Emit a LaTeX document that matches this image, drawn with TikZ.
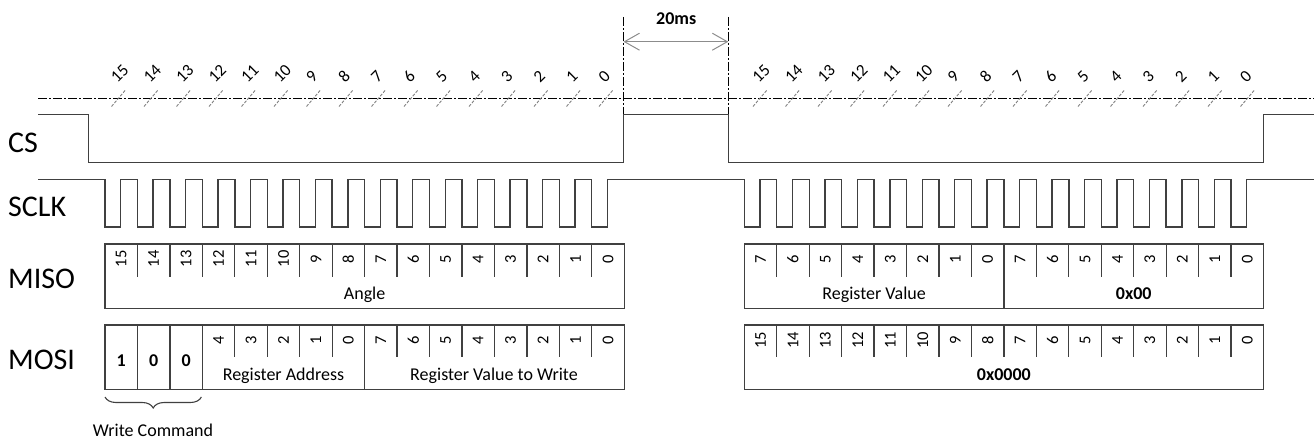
\documentclass[tikz,border=0pt]{standalone}
\usepackage{fontspec}
\setmainfont{Carlito}
\usetikzlibrary{arrows.meta,decorations.pathreplacing}
\begin{document}
\begin{tikzpicture}[x=1pt,y=-1pt]
\tikzset{
  sig/.style={draw=black!75, line width=1.4pt},
  boxline/.style={draw=black!75, line width=1.3pt},
  axisline/.style={black, line width=0.8pt, dash pattern=on 9pt off 2pt on 2pt off 2pt},
  tickline/.style={black!50, line width=0.9pt, dash pattern=on 3pt off 1.5pt},
  siglabel/.style={anchor=west, inner sep=0, font=\fontsize{30}{36}\selectfont},
  bitlbl/.style={rotate=90, anchor=center, inner sep=0, font=\fontsize{16.5}{18}\selectfont},
  toplbl/.style={rotate=45, anchor=west, inner sep=0, font=\fontsize{17}{18}\selectfont},
  fieldlbl/.style={anchor=base, inner sep=0, font=\fontsize{18}{20}\selectfont},
  boldlbl/.style={anchor=base, inner sep=0, font=\fontsize{18}{20}\selectfont\bfseries},
}
\useasboundingbox (0,0) rectangle (1314,441);

% signal names
\node[siglabel] (lcs)   at (8,143.3) {CS};
\node[siglabel] (lsclk) at (8,207)   {SCLK};
\node[siglabel] (lmiso) at (8,278.5) {MISO};
\node[siglabel] (lmosi) at (8,359.5) {MOSI};

% bit axis
\coordinate (axL) at (38,98);
\coordinate (axR) at (1314,98);
\draw[axisline] (axL) -- (axR);
\foreach \i [evaluate=\i as \x using 118.5+32.5*\i, evaluate=\i as \n using int(15-\i)] in {0,...,15} {
  \draw[tickline] (\x-7,106.5) -- (\x+7,90);
  \node[toplbl] (tl\i) at (\x-5,80) {\n};
}
\foreach \i [evaluate=\i as \x using 760+32.5*\i, evaluate=\i as \n using int(15-\i)] in {0,...,15} {
  \draw[tickline] (\x-7,106.5) -- (\x+7,90);
  \node[toplbl] (tr\i) at (\x-5,80) {\n};
}

% 20ms dimension
\coordinate (dA) at (623.5,17);
\coordinate (dB) at (728.3,17);
\coordinate (dA2) at (623.5,114.3);
\coordinate (dB2) at (728.3,114.3);
\draw[axisline] (dA) -- (dA2);
\draw[axisline] (dB) -- (dB2);
\coordinate (arA) at (623.5,41.7);
\coordinate (arB) at (728.3,41.7);
\draw[black!45, line width=1pt, {Straight Barb[length=15pt,width=17pt]}-{Straight Barb[length=15pt,width=17pt]}] (arA) -- (arB);
\node[boldlbl] (t20) at (676.2,25) {20ms};

% CS
\draw[sig] (38,114.3) -- (88.3,114.3) -- (88.3,162.7) -- (623.5,162.7) -- (623.5,114.3)
  -- (728.3,114.3) -- (728.3,162.7) -- (1263.5,162.7) -- (1263.5,114.3) -- (1314,114.3);

% SCLK
\draw[sig] (38,179.3) -- (105,179.3) -- (105,227)
  \foreach \i in {1,...,15}{ -- ++(15.7,0) -- ++(0,-47.7) -- ++(16.75,0) -- ++(0,47.7)}
  -- ++(15.7,0) -- ++(0,-47.7) -- (744.3,179.3) -- (744.3,227)
  \foreach \i in {1,...,15}{ -- ++(15.7,0) -- ++(0,-47.7) -- ++(16.75,0) -- ++(0,47.7)}
  -- ++(15.7,0) -- ++(0,-47.7) -- (1314,179.3);

% MISO left
\draw[boxline] (105,244) rectangle (624.2,308.7);
\foreach \i [evaluate=\i as \x using 105+32.45*\i] in {1,...,15}
  \draw[boxline] (\x,244) -- (\x,277.3);
\foreach \i [evaluate=\i as \x using 105+32.45*(\i+0.5), evaluate=\i as \n using int(15-\i)] in {0,...,15}
  \node[bitlbl] (ma\i) at (\x,259) {\n};
\node[fieldlbl] (angle) at (364.6,299.3) {Angle};

% MISO right
\draw[boxline] (744.3,244) rectangle (1263.5,308.7);
\foreach \i [evaluate=\i as \x using 744.3+32.45*\i] in {1,...,15}
  \draw[boxline] (\x,244) -- (\x,277.3);
\draw[boxline] (1003.9,277.3) -- (1003.9,308.7);
\foreach \i [evaluate=\i as \x using 744.3+32.45*(\i+0.5), evaluate={\i as \n using int(mod(15-\i,8))}] in {0,...,15}
  \node[bitlbl] (mb\i) at (\x,259) {\n};
\node[fieldlbl] (regval) at (874.1,299.3) {Register Value};
\node[boldlbl] (zz) at (1133.7,299.3) {0x00};

% MOSI left
\draw[boxline] (105,325) rectangle (624.2,389.3);
\foreach \i [evaluate=\i as \x using 105+32.45*\i] in {1,2,3,8}
  \draw[boxline] (\x,325) -- (\x,389.3);
\foreach \i [evaluate=\i as \x using 105+32.45*\i] in {4,5,6,7,9,10,11,12,13,14,15}
  \draw[boxline] (\x,325) -- (\x,357.3);
\node[boldlbl] (w1) at (121.2,366.7) {1};
\node[boldlbl] (w2) at (153.7,366.7) {0};
\node[boldlbl] (w3) at (186.1,366.7) {0};
\foreach \i [evaluate=\i as \x using 105+32.45*(\i+0.5), evaluate=\i as \n using int(7-\i)] in {3,...,7}
  \node[bitlbl] (oa\i) at (\x,340) {\n};
\foreach \i [evaluate=\i as \x using 105+32.45*(\i+0.5), evaluate=\i as \n using int(15-\i)] in {8,...,15}
  \node[bitlbl] (ob\i) at (\x,340) {\n};
\node[fieldlbl] (regaddr) at (283.5,380) {Register Address};
\node[fieldlbl] (regwr) at (494,380) {Register Value to Write};

% MOSI right
\draw[boxline] (744.3,325) rectangle (1263.5,389.3);
\foreach \i [evaluate=\i as \x using 744.3+32.45*\i] in {1,...,15}
  \draw[boxline] (\x,325) -- (\x,357.3);
\foreach \i [evaluate=\i as \x using 744.3+32.45*(\i+0.5), evaluate=\i as \n using int(15-\i)] in {0,...,15}
  \node[bitlbl] (oc\i) at (\x,340) {\n};
\node[boldlbl] (zzzz) at (1003.9,380) {0x0000};

% write command brace
\coordinate (brA) at (105,397);
\coordinate (brB) at (201.4,397);
\draw[black!75, line width=1.1pt, decorate, decoration={brace, mirror, amplitude=11pt}] (brA) -- (brB);
\node[fieldlbl] (wc) at (153,436) {Write Command};
\end{tikzpicture}
\end{document}
